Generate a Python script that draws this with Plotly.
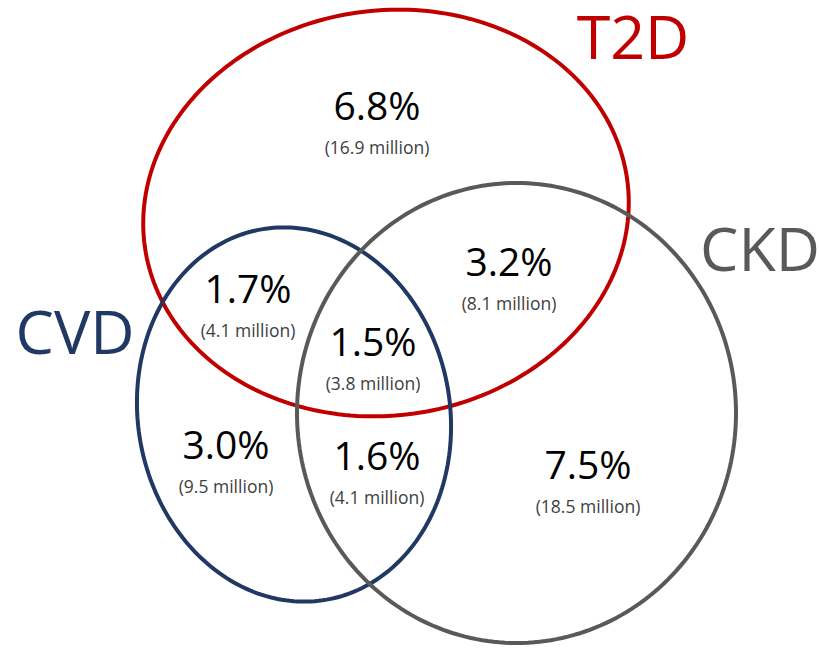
import numpy as np
import plotly.graph_objects as go

# ---- data ----
sets = ["T2D", "CVD", "CKD"]
set_colors = ["#C00000", "#203864", "#595959"]
regions = ["T2D only", "T2D+CVD", "T2D+CVD+CKD", "T2D+CKD", "CVD only", "CVD+CKD", "CKD only"]
percents = [6.8, 1.7, 1.5, 3.2, 3.0, 1.6, 7.5]
millions = [16.9, 4.1, 3.8, 8.1, 9.5, 4.1, 18.5]

# ---- layout geometry (pixel space) ----
ellipses = {  # cx, cy, a, b, rotation(deg)
    "T2D": (386, 213, 243.5, 202.5, -8),
    "CVD": (294, 414.5, 156, 188, -10),
    "CKD": (516.5, 413, 219.5, 230, 0),
}
region_pos = [(377, 110), (248, 293), (373, 346), (509, 266), (226, 449), (377, 460), (588, 469)]
sub_offset = 40
label_pos = {"T2D": (633, 44), "CVD": (75, 339), "CKD": (760, 256)}

W, H = 819, 649


def ellipse_path(cx, cy, a, b, rot):
    t = np.linspace(0, 2 * np.pi, 241)
    th = np.deg2rad(rot)
    x = cx + a * np.cos(t) * np.cos(th) - b * np.sin(t) * np.sin(th)
    y = cy + a * np.cos(t) * np.sin(th) + b * np.sin(t) * np.cos(th)
    p = "M %.2f,%.2f " % (x[0], y[0])
    p += " ".join("L %.2f,%.2f" % (xi, yi) for xi, yi in zip(x[1:], y[1:]))
    return p + " Z"


fig = go.Figure()

shapes = []
for s, col in zip(sets, set_colors):
    shapes.append(dict(type="path", path=ellipse_path(*ellipses[s]), xref="x", yref="y",
                       line=dict(color=col, width=4), fillcolor="rgba(0,0,0,0)", layer="above"))

fig.add_trace(go.Scatter(
    x=[p[0] for p in region_pos], y=[p[1] for p in region_pos],
    mode="text", text=["%.1f%%" % v for v in percents],
    textfont=dict(family="Open Sans", size=39, color="#000000"),
    textposition="middle center", hoverinfo="text", hovertext=regions, showlegend=False))

fig.add_trace(go.Scatter(
    x=[p[0] for p in region_pos], y=[p[1] + sub_offset for p in region_pos],
    mode="text", text=["(%.1f million)" % v for v in millions],
    textfont=dict(family="Open Sans", size=17.5, color="#404040"),
    textposition="middle center", hoverinfo="skip", showlegend=False))

fig.add_trace(go.Scatter(
    x=[label_pos[s][0] for s in sets], y=[label_pos[s][1] for s in sets],
    mode="text", text=sets,
    textfont=dict(family="Open Sans", size=61, color=set_colors),
    textposition="middle center", hoverinfo="skip", showlegend=False))

fig.update_layout(
    width=W, height=H, margin=dict(l=0, r=0, t=0, b=0),
    paper_bgcolor="white", plot_bgcolor="white", shapes=shapes,
    xaxis=dict(range=[0, W], visible=False, fixedrange=True),
    yaxis=dict(range=[H, 0], visible=False, fixedrange=True),
)

fig.write_html("out.html", config={"displayModeBar": False},
               post_script="document.body.style.margin='0px';document.body.style.overflow='hidden';")
